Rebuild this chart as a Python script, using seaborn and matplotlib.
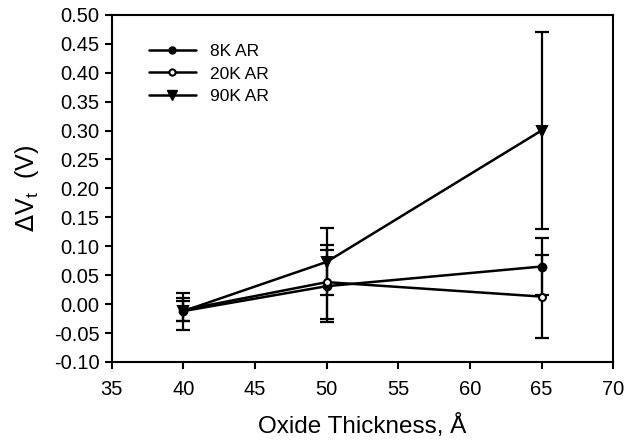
import numpy as np
import pandas as pd
import matplotlib
matplotlib.use("Agg")
import matplotlib.pyplot as plt
import seaborn as sns
from matplotlib.lines import Line2D

# --- data ---
thickness = [40, 50, 65]
series_names = ["8K AR", "20K AR", "90K AR"]
dvt_8k = [-0.012, 0.031, 0.065]
dvt_20k = [-0.010, 0.038, 0.013]
dvt_90k = [-0.012, 0.073, 0.300]
err_8k = [0.017, 0.062, 0.050]
err_20k = [0.020, 0.064, 0.072]
err_90k = [0.032, 0.058, 0.170]

x_ticks = [35, 40, 45, 50, 55, 60, 65, 70]
y_ticks = [-0.10, -0.05, 0.00, 0.05, 0.10, 0.15, 0.20, 0.25, 0.30, 0.35, 0.40, 0.45, 0.50]

sns.set_style("ticks")
plt.rcParams['font.family'] = ['Liberation Sans', 'DejaVu Sans']
plt.rcParams.update({
    'text.color': 'black',
    'axes.labelcolor': 'black',
    'xtick.color': 'black',
    'ytick.color': 'black',
})

df = pd.DataFrame({
    "x": thickness * 3,
    "y": dvt_8k + dvt_20k + dvt_90k,
    "err": err_8k + err_20k + err_90k,
    "series": [s for s in series_names for _ in thickness],
})

fig = plt.figure(figsize=(6.25, 4.48), dpi=100)
ax = fig.add_axes([0.179, 0.192, 0.802, 0.775])

# error bars first, behind the lines
for name in series_names:
    sub = df[df["series"] == name]
    ax.errorbar(sub["x"], sub["y"], yerr=sub["err"], fmt="none",
                ecolor="black", elinewidth=1.6, capsize=5, capthick=1.6, zorder=1)

n_before = len(ax.lines)
markers = {"8K AR": "o", "20K AR": "o", "90K AR": "v"}
sns.lineplot(data=df, x="x", y="y", hue="series", style="series",
             palette=["black"] * 3, markers=markers, dashes=False,
             linewidth=1.8, ax=ax, zorder=2, legend=False)

# marker styles per series (8K filled, 20K open, 90K filled triangle)
sea_lines = ax.lines[n_before:]
sizes = [5.5, 5, 7.5]
faces = ["black", "white", "black"]
for ln, ms, fc in zip(sea_lines, sizes, faces):
    ln.set_markersize(ms)
    ln.set_markerfacecolor(fc)
    ln.set_markeredgecolor("black")
    ln.set_markeredgewidth(1.5)

# legend
handles = [
    Line2D([], [], color="black", lw=1.8, marker="o", ms=5, mfc="black", mec="black"),
    Line2D([], [], color="black", lw=1.8, marker="o", ms=4.5, mfc="white", mec="black", mew=1.5),
    Line2D([], [], color="black", lw=1.8, marker="v", ms=7, mfc="black", mec="black"),
]
ax.legend(handles, series_names, loc="upper left", bbox_to_anchor=(0.06, 0.935),
          frameon=False, fontsize=12.5, handlelength=2.7, handletextpad=0.8,
          labelspacing=0.4, borderaxespad=0, labelcolor="black")

ax.set_xlim(35, 70)
ax.set_ylim(-0.10, 0.50)
ax.set_xticks(x_ticks)
ax.set_yticks(y_ticks)
ax.set_yticklabels([f"{v:.2f}" for v in y_ticks])
ax.tick_params(labelsize=14.5, width=1.5, length=5, direction="out", colors="black")
ax.tick_params(axis="x", pad=8)
ax.tick_params(axis="y", pad=4)
for sp in ax.spines.values():
    sp.set_linewidth(1.5)
    sp.set_color("black")

ax.set_xlabel("Oxide Thickness, Å", fontsize=17.5, labelpad=11, color="black")
ax.set_ylabel(r"$\Delta$V$_\mathregular{t}$  (V)", fontsize=18, labelpad=9, color="black")

fig.savefig("out.png", dpi=100)
